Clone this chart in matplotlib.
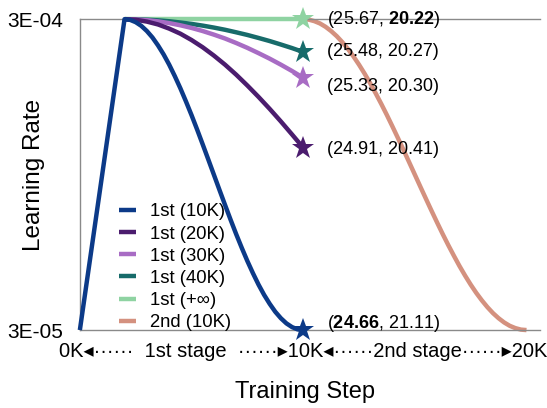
import matplotlib
matplotlib.use('Agg')
import matplotlib.pyplot as plt

plt.rcParams['font.family'] = ['Liberation Sans', 'DejaVu Sans']
plt.rcParams['mathtext.fontset'] = 'custom'
plt.rcParams['mathtext.rm'] = 'Liberation Sans'
plt.rcParams['mathtext.bf'] = 'Liberation Sans:bold'

# learning rate in units of 1e-4, steps in K
step_10k = [0, 2, 2.25, 2.5, 2.75, 3, 3.25, 3.5, 3.75, 4, 4.25, 4.5, 4.75, 5, 5.25, 5.5, 5.75,
            6, 6.25, 6.5, 6.75, 7, 7.25, 7.5, 7.75, 8, 8.25, 8.5, 8.75, 9, 9.25, 9.5, 9.75, 10]
lr_10k = [0.300, 3.000, 2.994, 2.974, 2.942, 2.897, 2.841, 2.772, 2.694, 2.605, 2.506, 2.400,
          2.286, 2.167, 2.042, 1.913, 1.782, 1.650, 1.518, 1.387, 1.258, 1.133, 1.014, 0.900,
          0.794, 0.695, 0.606, 0.528, 0.459, 0.403, 0.358, 0.326, 0.306, 0.300]

step_long = [2, 2.5, 3, 3.5, 4, 4.5, 5, 5.5, 6, 6.5, 7, 7.5, 8, 8.5, 9, 9.5, 10]
lr_20k = [3.000, 2.995, 2.979, 2.954, 2.918, 2.874, 2.819, 2.756, 2.684, 2.605, 2.518, 2.424,
          2.325, 2.221, 2.112, 1.999, 1.884]
lr_30k = [3.000, 2.998, 2.992, 2.981, 2.966, 2.947, 2.924, 2.897, 2.866, 2.832, 2.793, 2.751,
          2.705, 2.657, 2.605, 2.550, 2.492]
lr_40k = [3.000, 2.999, 2.995, 2.990, 2.982, 2.971, 2.959, 2.944, 2.927, 2.908, 2.886, 2.863,
          2.837, 2.810, 2.780, 2.749, 2.715]
lr_inf = [3.00, 3.00, 3.00, 3.00, 3.00, 3.00, 3.00, 3.00, 3.00, 3.00, 3.00, 3.00, 3.00, 3.00,
          3.00, 3.00, 3.00]

step_2nd = [10, 10.25, 10.5, 10.75, 11, 11.25, 11.5, 11.75, 12, 12.25, 12.5, 12.75, 13, 13.25,
            13.5, 13.75, 14, 14.25, 14.5, 14.75, 15, 15.25, 15.5, 15.75, 16, 16.25, 16.5, 16.75,
            17, 17.25, 17.5, 17.75, 18, 18.25, 18.5, 18.75, 19, 19.25, 19.5, 19.75, 20]
lr_2nd = [3.000, 2.996, 2.983, 2.963, 2.934, 2.897, 2.853, 2.801, 2.742, 2.677, 2.605, 2.527,
          2.444, 2.355, 2.263, 2.167, 2.067, 1.965, 1.861, 1.756, 1.650, 1.544, 1.439, 1.335,
          1.233, 1.133, 1.037, 0.945, 0.856, 0.773, 0.695, 0.623, 0.558, 0.499, 0.447, 0.403,
          0.366, 0.337, 0.317, 0.304, 0.300]

labels = ['1st (10K)', '1st (20K)', '1st (30K)', '1st (40K)', '1st (+∞)', '2nd (10K)']
end_texts = [r'($\mathbf{24.66}$, 21.11)', '(24.91, 20.41)', '(25.33, 20.30)',
             '(25.48, 20.27)', r'(25.67, $\mathbf{20.22}$)']

colors = ['#0c3a88', '#4b1c6e', '#a86cc4', '#176b6a', '#8fd3a2', '#d4917f']

fig = plt.figure(figsize=(5.47, 4.08), dpi=100)
ax = fig.add_axes([0.146, 0.191, 0.841, 0.762])

series = [(step_10k, lr_10k), (step_long, lr_20k), (step_long, lr_30k),
          (step_long, lr_40k), (step_long, lr_inf), (step_2nd, lr_2nd)]
zs = [7, 6, 5, 4, 3, 2]
handles = []
for (xs, ys), c, lab, z in zip(series, colors, labels, zs):
    h, = ax.plot(xs, ys, color=c, lw=3.2, label=lab, zorder=z,
                 solid_capstyle='butt', solid_joinstyle='round', clip_on=False)
    handles.append(h)

# stars at the end of first stage
text_dy = [5, -1, -6, 0, 0]
for i in range(5):
    xs, ys = series[i]
    ax.plot(xs[-1], ys[-1], marker='*', ms=17, color=colors[i],
            zorder=10, clip_on=False, markeredgewidth=0)
    ax.annotate(end_texts[i], (xs[-1], ys[-1]), xytext=(17, text_dy[i]),
                textcoords='offset points', ha='left', va='center',
                fontsize=13, zorder=12)

ax.set_xlim(0, 20.6)
ax.set_ylim(0.3, 3.0)
ax.set_yticks([0.3, 3.0])
ax.set_yticklabels(['3E-05', '3E-04'], fontsize=15)
ax.tick_params(axis='y', length=0, pad=12)
ax.set_xticks([])
for s in ['left', 'bottom', 'top']:
    ax.spines[s].set_color('#8a8a8a')
    ax.spines[s].set_linewidth(1.0)
ax.spines['right'].set_visible(False)

ax.set_ylabel('Learning Rate', fontsize=17.5, labelpad=0)
ax.yaxis.set_label_coords(-0.076, 0.5)

ax.text(10.0, -0.07, '0K◂······  1st stage  ······▸10K◂······2nd stage······▸20K',
        transform=ax.get_xaxis_transform(), ha='center', va='center',
        fontsize=14.5)
ax.text(0.49, -0.2, 'Training Step', transform=ax.transAxes,
        ha='center', va='center', fontsize=17)

ax.legend(handles=handles, loc='upper left', bbox_to_anchor=(0.065, 0.437),
          frameon=False, fontsize=13.3, handlelength=0.9, handletextpad=0.8,
          labelspacing=0.28, borderpad=0)

fig.savefig('out.png', dpi=100)
